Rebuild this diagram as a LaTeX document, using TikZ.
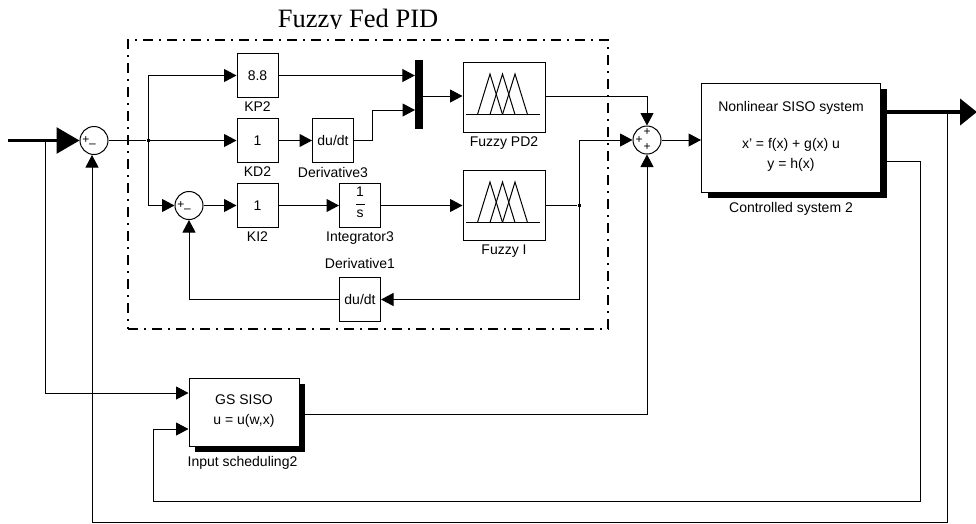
\documentclass[tikz,border=0pt]{standalone}
\usepackage{fontspec}
\setmainfont{Liberation Sans}
\newfontfamily\titlefont{Liberation Serif}
\usetikzlibrary{positioning,arrows.meta,shadows}

\begin{document}
\begin{tikzpicture}[
	x=1pt, y=-1pt,
	font=\fontsize{14}{20}\selectfont,
	% Define styles for all blocks and signals
	block style/.style={rectangle, draw, fill=white, line width=1pt, inner sep=0pt, align=center},
	gain style/.style={block style, minimum width=41pt, minimum height=44pt},
	fuzzy style/.style={block style, minimum width=82pt, minimum height=69.5pt},
	shadow style/.style={block style, drop shadow={shadow xshift=6pt, shadow yshift=-6pt, opacity=1, fill=black}},
	sum style/.style={circle, draw, fill=white, line width=1pt, minimum size=28pt, inner sep=0pt},
	sign style/.style={inner sep=0pt, font=\fontsize{12}{12}\selectfont},
	dot style/.style={rectangle, fill=black, minimum size=3pt, inner sep=0pt},
	caption style/.style={inner sep=0pt},
	signal/.style={line width=1pt, -{Triangle[length=12.5pt, width=13pt]}},
	wire/.style={line width=1pt},
	main signal/.style={line width=2.7pt, -{Triangle[length=23pt, width=26pt]}},
	out signal/.style={line width=4pt, -{Triangle[length=17pt, width=26pt]}},
	fuzzy icon/.pic={
		\draw[line width=1pt] (-38,17) -- (36,17);
		\foreach \xapex in {-14,-1.5,11}
			\draw[line width=1pt] (\xapex-12.5,17) -- (\xapex,-23.5) -- (\xapex+12.5,17);
	}
	]

	\useasboundingbox (0,0) rectangle (976,523);

	% Title and dashed frame
	\begin{scope}
		\clip (270,0) rectangle (445,28);
		\node[inner sep=0pt, font=\titlefont\fontsize{26.5}{26.5}\selectfont, anchor=base] (title) at (358,27) {Fuzzy Fed PID};
	\end{scope}
	\node[draw, line width=1.2pt, dash pattern=on 10pt off 6pt on 2pt off 6pt, minimum width=480pt, minimum height=289pt] (frame) at (368,184.5) {};

	% Define and place the blocks
	\node[sum style] (sum1) at (94,140.5) {};
	\node[sum style] (sum2) at (189,205.5) {};
	\node[sum style] (sum3) at (647,140) {};

	\node[gain style] (KP2) at (257.5,75.5) {8.8};
	\node[gain style] (KD2) at (257.5,140.5) {1};
	\node[gain style] (KI2) at (257.5,205.5) {1};
	\node[gain style] (Deriv3) at (333,140.5) {du/dt};
	\node[gain style] (Integ3) at (360,205.5) {1\\[-12pt]\rule{9pt}{0.8pt}\\[-7pt]s\rule[-6pt]{0pt}{6pt}};
	\node[gain style] (Deriv1) at (360,299.5) {du/dt};

	\node[rectangle, fill=black, minimum width=8pt, minimum height=69pt, inner sep=0pt] (mux) at (419,94) {};
	\node[fuzzy style] (FuzzyPD) at (504,97.5) {};
	\node[fuzzy style] (FuzzyI) at (504,205.5) {};
	\path (FuzzyPD) pic {fuzzy icon};
	\path (FuzzyI) pic {fuzzy icon};

	\node[shadow style, minimum width=179pt, minimum height=109pt] (Plant) at (791,137.5) {};
	\node[inner sep=0pt, align=center] (PlantText) at (791,136) {Nonlinear SISO system\\[17pt]x' = f(x) + g(x) u\\y = h(x)};
	\node[shadow style, minimum width=110pt, minimum height=68pt] (GS) at (244,412) {};
	\node[inner sep=0pt, align=center] (GSText) at (244,411.5) {GS SISO\\u = u(w,x)};

	% Captions
	\node[caption style, below=4pt of KP2] (capKP) {KP2};
	\node[caption style, below=4pt of KD2] (capKD) {KD2};
	\node[caption style, below=4pt of KI2] (capKI) {KI2};
	\node[caption style, below=4pt of Deriv3] (capD3) {Derivative3};
	\node[caption style, below=4pt of Integ3] (capI3) {Integrator3};
	\node[caption style, above=8pt of Deriv1] (capD1) {Derivative1};
	\node[caption style, below=4pt of FuzzyPD] (capPD) {Fuzzy PD2};
	\node[caption style, below=4pt of FuzzyI] (capFI) {Fuzzy I};
	\node[caption style, below=10pt of Plant] (capPl) {Controlled system 2};
	\node[caption style, below=10pt of GS, xshift=-1.5pt] (capGS) {Input scheduling2};

	% Signs of the sum blocks
	\foreach \xsign/\ysign/\tsign/\nsign in {86/140/+/a, 92.5/146/--/b, 181/205/+/c, 187.5/211/--/d, 639/140/+/e, 647/132/+/f, 647/147/+/g}
		\node[sign style] (sign\nsign) at (\xsign,\ysign) {\tsign};

	% Branch points and free ends
	\node[dot style] (dotIn) at (45.5,140.5) {};
	\node[dot style] (dotA) at (148,140.5) {};
	\node[dot style] (dotI) at (579,205.5) {};
	\coordinate (start) at (8,140.5);
	\coordinate (end) at (977,112);
	\coordinate (branchOut) at (947.5,112);
	\coordinate (pdLine) at (500,96);
	\coordinate (muxB) at (415,110);
	\coordinate (botLine) at (92,522);
	\coordinate (fbRight) at (920,501.7);
	\coordinate (fbLeft) at (153.5,429);

	% --- Draw the edges ---
	\draw[main signal] (start) -- (sum1.west);
	\draw[wire] (sum1.east) -- (dotA);
	\draw[signal] (dotA) -- (KD2.west);
	\draw[signal] (dotA) |- (KP2.west);
	\draw[signal] (dotA) |- (sum2.west);
	\draw[signal] (sum2.east) -- (KI2.west);
	\draw[signal] (KD2.east) -- (Deriv3.west);
	\draw[signal] (KI2.east) -- (Integ3.west);
	\draw[signal] (Integ3.east) -- (FuzzyI.west);
	\draw[signal] (KP2.east) -- (KP2.east -| mux.west);
	\draw[signal] (Deriv3.east) -- ++(18.5,0) |- (muxB);
	\draw[signal] (mux.east |- pdLine) -- (FuzzyPD.west |- pdLine);
	\draw[signal] (FuzzyPD.east |- pdLine) -| (sum3.north);
	\draw[wire] (FuzzyI.east) -- (dotI);
	\draw[signal] (dotI) |- (sum3.west);
	\draw[signal] (dotI) |- (Deriv1.east);
	\draw[signal] (Deriv1.west) -| (sum2.south);
	\draw[signal] (sum3.east) -- (sum3.east -| Plant.west);
	\draw[out signal] (Plant.east |- end) -- (end);
	\draw[signal] (branchOut) |- (botLine) -- (botLine |- sum1.south);
	\draw[signal] (dotIn) |- ([yshift=19pt]GS.west);
	\draw[signal] ([yshift=-23.5pt]Plant.east) -| (fbRight) -| (fbLeft) -- ([yshift=-17pt]GS.west);
	\draw[signal] (GS.east |- 300,414.7) -| (sum3.south);
\end{tikzpicture}
\end{document}
